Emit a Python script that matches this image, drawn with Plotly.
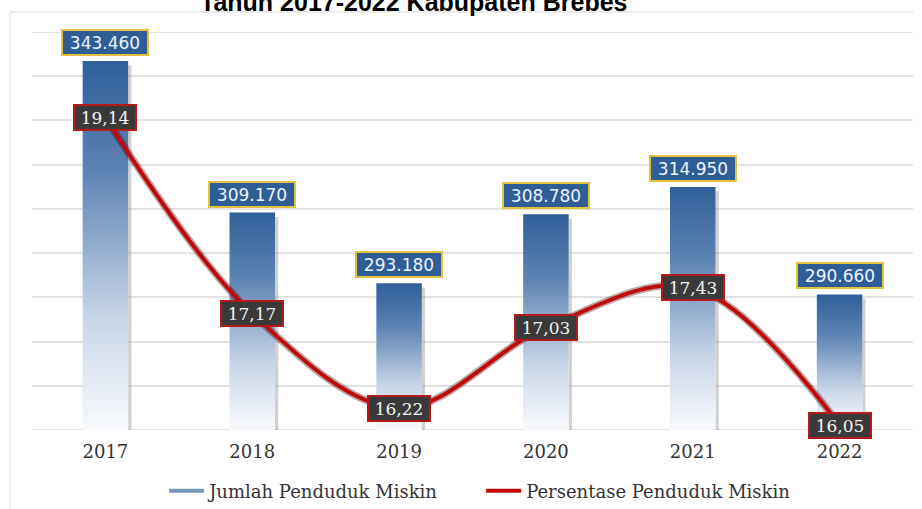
import plotly.graph_objects as go

# ---- data ----
years = ["2017", "2018", "2019", "2020", "2021", "2022"]
jumlah = [343460, 309170, 293180, 308780, 314950, 290660]
persen = [19.14, 17.17, 16.22, 17.03, 17.43, 16.05]
jumlah_labels = ["343.460", "309.170", "293.180", "308.780", "314.950", "290.660"]
persen_labels = ["19,14", "17,17", "16,22", "17,03", "17,43", "16,05"]

title_text = "Tahun 2017-2022 Kabupaten Brebes"
name_bar = "Jumlah Penduduk Miskin"
name_line = "Persentase Penduduk Miskin"

Y_MIN, Y_MAX, Y_STEP = 260000, 350000, 10000
Y2_MIN, Y2_MAX = 16, 20
HALF_W = 0.155

xs = list(range(len(years)))
fig = go.Figure()

# bar shadows
for i, v in zip(xs, jumlah):
    fig.add_trace(go.Scatter(
        x=[i + HALF_W, i + HALF_W + 0.022, i + HALF_W + 0.022, i + HALF_W],
        y=[Y_MIN, Y_MIN, v - 1000, v - 1000],
        fill="toself", mode="lines", line=dict(width=0),
        fillcolor="rgba(150,150,150,0.45)", showlegend=False, hoverinfo="skip"))

# gradient bars
for i, v in zip(xs, jumlah):
    fig.add_trace(go.Scatter(
        x=[i - HALF_W, i + HALF_W, i + HALF_W, i - HALF_W, i - HALF_W],
        y=[Y_MIN, Y_MIN, v, v, Y_MIN],
        fill="toself", mode="lines", line=dict(width=0),
        fillgradient=dict(type="vertical",
                          colorscale=[[0, "#f8fafd"], [0.3, "#c9d6e8"],
                                      [0.7, "#5d83b3"], [1, "#2f5f99"]]),
        showlegend=False, hoverinfo="skip"))

# line shadow + line
fig.add_trace(go.Scatter(
    x=xs, y=persen, yaxis="y2", mode="lines",
    line=dict(color="rgba(70,0,0,0.35)", width=7.5, shape="spline", smoothing=1.0),
    showlegend=False, hoverinfo="skip"))
fig.add_trace(go.Scatter(
    x=xs, y=persen, yaxis="y2", mode="lines",
    line=dict(color="#c00a0a", width=4, shape="spline", smoothing=1.0),
    showlegend=False))

# legend entries
fig.add_trace(go.Scatter(x=[None], y=[None], mode="lines", name=name_bar,
                         line=dict(color="#7696ba", width=4)))
fig.add_trace(go.Scatter(x=[None], y=[None], mode="lines", name=name_line,
                         line=dict(color="#c00a0a", width=4)))

annotations = []
for i, v, t in zip(xs, jumlah, jumlah_labels):
    annotations.append(dict(
        x=i, y=v, xref="x", yref="y", text=t, showarrow=False,
        yanchor="bottom", yshift=5, width=82, height=21,
        font=dict(family="DejaVu Sans", size=17, color="#eef3fa"),
        bgcolor="#2e5e95", bordercolor="#e2c23c", borderwidth=2, borderpad=1))
for i, p, t in zip(xs, persen, persen_labels):
    annotations.append(dict(
        x=i, y=p, xref="x", yref="y2", text=t, showarrow=False,
        yanchor="middle", width=58, height=21,
        font=dict(family="DejaVu Serif", size=17, color="#f4f4f4"),
        bgcolor="#3a3a3a", bordercolor="#b51a1a", borderwidth=2, borderpad=1))
annotations.append(dict(
    x=0.4325, y=1.035, xref="paper", yref="paper", text="<b>" + title_text + "</b>",
    showarrow=False, yanchor="bottom", xanchor="center",
    font=dict(family="Liberation Sans", size=25, color="#000000")))

fig.update_layout(
    width=922, height=509,
    margin=dict(l=32, r=9, t=32, b=79, autoexpand=False),
    paper_bgcolor="white", plot_bgcolor="white",
    showlegend=True,
    legend=dict(orientation="h", x=0.150, xanchor="left", y=-0.107, yanchor="top",
                font=dict(family="DejaVu Serif", size=18, color="#333333"),
                itemwidth=35, entrywidth=267, entrywidthmode="pixels"),
    xaxis=dict(range=[-0.5, 5.5], tickvals=xs, ticktext=years, showgrid=False,
               zeroline=False, showline=False, ticks="", ticklabelstandoff=9,
               tickfont=dict(family="DejaVu Serif", size=18, color="#333333")),
    yaxis=dict(range=[Y_MIN, Y_MAX], dtick=Y_STEP, tick0=Y_MIN, showgrid=True,
               gridcolor="#e2e2e2", gridwidth=2, showticklabels=False,
               zeroline=False, showline=False),
    yaxis2=dict(range=[Y2_MIN, Y2_MAX], overlaying="y", side="right",
                showgrid=False, showticklabels=False, zeroline=False, showline=False),
    annotations=annotations,
    shapes=[
        dict(type="line", xref="paper", yref="y", x0=0, x1=1, y0=Y_MAX, y1=Y_MAX,
             line=dict(color="#e2e2e2", width=2), layer="below"),
        dict(type="line", xref="paper", yref="y", x0=0, x1=1, y0=Y_MIN, y1=Y_MIN,
             line=dict(color="#e2e2e2", width=2), layer="below"),
        dict(type="line", xref="paper", yref="paper", x0=-0.025, x1=1.0, y0=1.05, y1=1.05,
             line=dict(color="#e6e6e6", width=1.5), layer="below"),
        dict(type="line", xref="paper", yref="paper", x0=-0.025, x1=-0.025, y0=1.05, y1=-0.2,
             line=dict(color="#ececec", width=1.5), layer="below"),
    ],
)

fig.write_html("out.html")
